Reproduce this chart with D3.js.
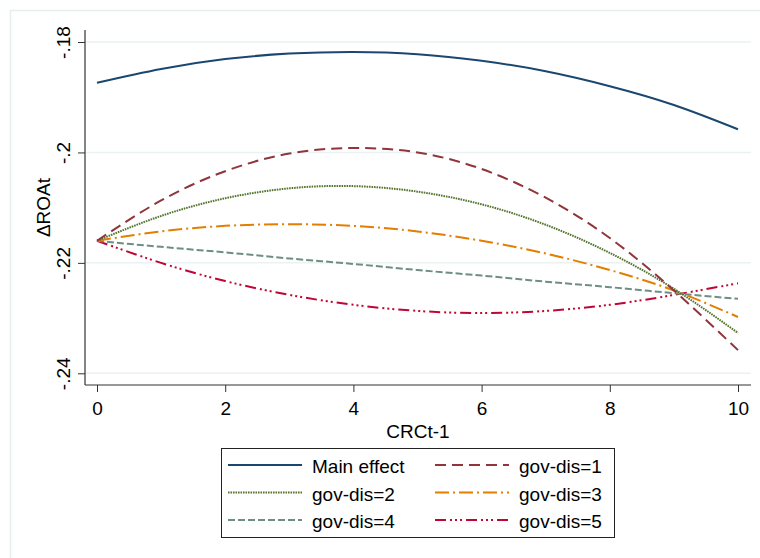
<!DOCTYPE html>
<html>
<head>
<meta charset="utf-8">
<script src="https://cdn.jsdelivr.net/npm/d3@7"></script>
<style>
  body { margin: 0; background: #fff; }
  text { font-family: Arial, "Liberation Sans", sans-serif; fill: #000; }
</style>
</head>
<body>
<div id="chart"></div>
<script>
// Data (values at CRCt-1 = 0..10)
const xVals = [0, 1, 2, 3, 4, 5, 6, 7, 8, 9, 10];
const mainEffect = [-.1874, -.1849, -.1831, -.1821, -.1818, -.1822, -.1834, -.1853, -.1880, -.1914, -.1958];
const govDis1 = [-.2160, -.2087, -.2034, -.2002, -.1992, -.2000, -.2030, -.2082, -.2155, -.2250, -.2358];
const govDis2 = [-.2160, -.2115, -.2083, -.2065, -.2061, -.2071, -.2094, -.2131, -.2182, -.2247, -.2327];
const govDis3 = [-.2160, -.2143, -.2133, -.2130, -.2133, -.2143, -.2160, -.2183, -.2213, -.2250, -.2298];
const govDis4 = [-.2160, -.2171, -.2181, -.2192, -.2202, -.2213, -.2223, -.2234, -.2244, -.2255, -.2265];
const govDis5 = [-.2160, -.2200, -.2233, -.2258, -.2276, -.2287, -.2291, -.2287, -.2276, -.2258, -.2237];

const xTicks = [0, 2, 4, 6, 8, 10];
const yTicks = [-.18, -.2, -.22, -.24];
const yTickLabels = ["-.18", "-.2", "-.22", "-.24"];

const series = [
  { name: "Main effect", values: mainEffect, color: "#1a476f", dash: null },
  { name: "gov-dis=1", values: govDis1, color: "#90353b", dash: "11,6" },
  { name: "gov-dis=2", values: govDis2, color: "#55752f", dash: "1.6,0.9" },
  { name: "gov-dis=3", values: govDis3, color: "#e37e00", dash: "14,4,2,4" },
  { name: "gov-dis=4", values: govDis4, color: "#6e8e84", dash: "7,3" },
  { name: "gov-dis=5", values: govDis5, color: "#c10534", dash: "11,4,2,3,2,3,2,4" }
];

const width = 760;
const height = 558;
const fontSize = "19px";

const svg = d3.select("#chart")
  .append("svg")
  .attr("width", width)
  .attr("height", height);

// outer graph frame
svg.append("rect")
  .attr("x", 10.5).attr("y", 10.5)
  .attr("width", 760).attr("height", 560)
  .attr("fill", "#fff")
  .attr("stroke", "#e6eef0")
  .attr("stroke-width", 1.5);

const plotLeft = 85, plotRight = 751, plotTop = 30, plotBottom = 385;

const x = d3.scaleLinear().domain([0, 10]).range([97, 738]);
const y = d3.scaleLinear().domain([-.24, -.18]).range([373.3, 42]);

// gridlines
svg.append("g")
  .selectAll("line")
  .data(yTicks)
  .enter()
  .append("line")
  .attr("x1", plotLeft).attr("x2", plotRight)
  .attr("y1", d => y(d)).attr("y2", d => y(d))
  .attr("stroke", "#eaf2f3")
  .attr("stroke-width", 1.5);

// axis lines
svg.append("line")
  .attr("x1", plotLeft).attr("x2", plotLeft)
  .attr("y1", plotTop).attr("y2", plotBottom)
  .attr("stroke", "#333").attr("stroke-width", 1.2);
svg.append("line")
  .attr("x1", plotLeft).attr("x2", plotRight)
  .attr("y1", plotBottom).attr("y2", plotBottom)
  .attr("stroke", "#333").attr("stroke-width", 1.2);

// x axis
const xAxis = svg.append("g")
  .attr("transform", `translate(0,${plotBottom})`)
  .call(d3.axisBottom(x).tickValues(xTicks).tickSize(7).tickPadding(10).tickFormat(d3.format("d")));
xAxis.select(".domain").remove();
xAxis.selectAll(".tick line").attr("stroke", "#333");
xAxis.selectAll("text").style("font-size", fontSize).attr("fill", "#000");

// y axis with rotated labels
const yAxis = svg.append("g")
  .attr("transform", `translate(${plotLeft},0)`)
  .call(d3.axisLeft(y).tickValues(yTicks).tickSize(7).tickFormat((d, i) => yTickLabels[i]));
yAxis.select(".domain").remove();
yAxis.selectAll(".tick line").attr("stroke", "#333");
yAxis.selectAll("text")
  .attr("x", 0).attr("y", 0).attr("dy", null)
  .attr("text-anchor", "middle")
  .attr("transform", "translate(-15,0) rotate(-90)")
  .style("font-size", fontSize)
  .attr("fill", "#000");

// axis titles
svg.append("text")
  .attr("x", (plotLeft + plotRight) / 2)
  .attr("y", 438)
  .attr("text-anchor", "middle")
  .style("font-size", fontSize)
  .text("CRCt-1");

svg.append("text")
  .attr("transform", `translate(50,${(plotTop + plotBottom) / 2}) rotate(-90)`)
  .attr("text-anchor", "middle")
  .style("font-size", fontSize)
  .text("ΔROAt");

// lines
const line = d3.line()
  .x((d, i) => x(xVals[i]))
  .y(d => y(d))
  .curve(d3.curveNatural);

svg.append("g")
  .selectAll("path")
  .data(series.slice().reverse())
  .enter()
  .append("path")
  .attr("d", d => line(d.values))
  .attr("fill", "none")
  .attr("stroke", d => d.color)
  .attr("stroke-width", 2)
  .attr("stroke-dasharray", d => d.dash);

// legend
const legend = svg.append("g");
legend.append("rect")
  .attr("x", 221.5).attr("y", 448.5)
  .attr("width", 393).attr("height", 89)
  .attr("fill", "#fff")
  .attr("stroke", "#222")
  .attr("stroke-width", 1);

const item = legend.selectAll("g.item")
  .data(series)
  .enter()
  .append("g")
  .attr("class", "item")
  .attr("transform", (d, i) => `translate(${i % 2 === 0 ? 228 : 435},${465 + Math.floor(i / 2) * 27.5})`);

item.append("line")
  .attr("x1", 0).attr("x2", 74)
  .attr("y1", 0).attr("y2", 0)
  .attr("stroke", d => d.color)
  .attr("stroke-width", 2)
  .attr("stroke-dasharray", d => d.dash);

item.append("text")
  .attr("x", 84)
  .attr("y", 8)
  .style("font-size", fontSize)
  .text(d => d.name);
</script>
</body>
</html>
